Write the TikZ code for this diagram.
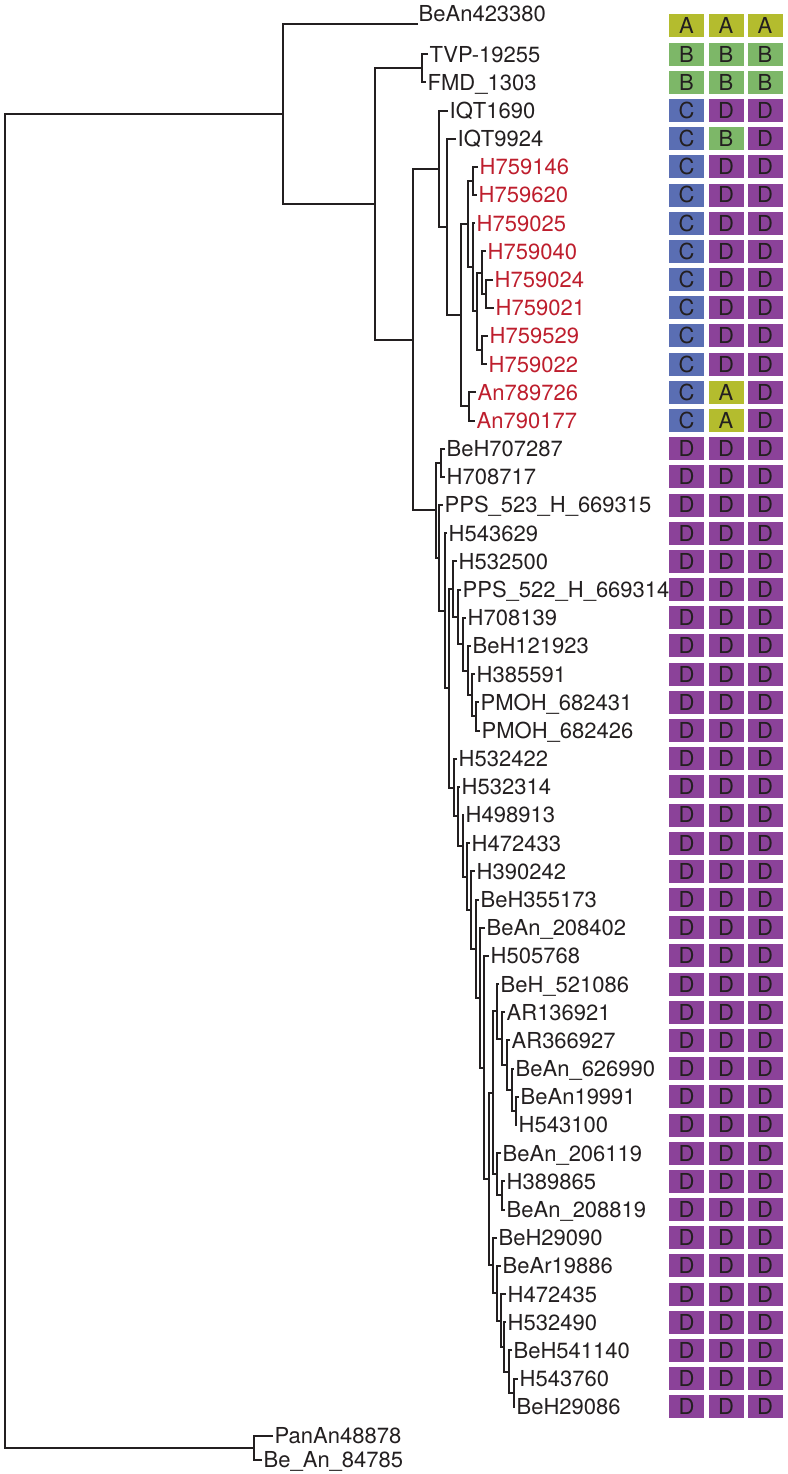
\documentclass[tikz,border=0pt]{standalone}
\usepackage{fontspec}
\setmainfont{TeX Gyre Heros}
\usetikzlibrary{calc}
\definecolor{ink}{HTML}{231F20}
\definecolor{hred}{HTML}{BE1E2D}
\definecolor{cA}{HTML}{B4BC2E}
\definecolor{cB}{HTML}{7DB768}
\definecolor{cC}{HTML}{5A6EB3}
\definecolor{cD}{HTML}{8B4299}

% clade: name, x of its bar, upper child, lower child
\newcommand{\mkclade}[4]{%
  \coordinate (#1-m) at ($(#3)!.5!(#4)$);
  \coordinate (#1) at (#2,0 |- #1-m);
  \draw[branch] (#3) -| (#1) |- (#4);}

\begin{document}
\begin{tikzpicture}[x=1pt, y=-1pt, font=\fontsize{22}{22}\selectfont,
    branch/.style={draw=ink, line width=2pt},
    lbl/.style={anchor=west, inner sep=1.5pt, text height=15.8pt, text depth=0pt, text=ink},
    lblred/.style={lbl, text=hred},
    lbltop/.style={lbl, yshift=12pt},
    cell/.style={minimum width=35pt, minimum height=23pt, inner sep=0pt,
      text height=15.8pt, text depth=0pt, text=ink}]
  \useasboundingbox (0,0) rectangle (787,1474);

  % leaves and their three columns
  \foreach \i/\x/\lab/\st/\ca/\cb/\cc in {
    1/417/BeAn423380/lbltop/A/A/A, 2/428/TVP-19255/lbl/B/B/B, 3/426/FMD\_1303/lbl/B/B/B,
    4/448/IQT1690/lbl/C/D/D, 5/456/IQT9924/lbl/C/B/D,
    6/478/H759146/lblred/C/D/D, 7/477/H759620/lblred/C/D/D, 8/475/H759025/lblred/C/D/D,
    9/486/H759040/lblred/C/D/D, 10/493/H759024/lblred/C/D/D, 11/494/H759021/lblred/C/D/D,
    12/488/H759529/lblred/C/D/D, 13/487/H759022/lblred/C/D/D,
    14/476/An789726/lblred/C/A/D, 15/475/An790177/lblred/C/A/D,
    16/445/BeH707287/lbl/D/D/D, 17/445/H708717/lbl/D/D/D, 18/443/PPS\_523\_H\_669315/lbl/D/D/D,
    19/447/H543629/lbl/D/D/D, 20/457/H532500/lbl/D/D/D, 21/461/PPS\_522\_H\_669314/lbl/D/D/D,
    22/466/H708139/lbl/D/D/D, 23/471/BeH121923/lbl/D/D/D, 24/475/H385591/lbl/D/D/D,
    25/479/PMOH\_682431/lbl/D/D/D, 26/480/PMOH\_682426/lbl/D/D/D, 27/457/H532422/lbl/D/D/D,
    28/460/H532314/lbl/D/D/D, 29/464/H498913/lbl/D/D/D, 30/470/H472433/lbl/D/D/D,
    31/475/H390242/lbl/D/D/D, 32/479/BeH355173/lbl/D/D/D, 33/485/BeAn\_208402/lbl/D/D/D,
    34/489/H505768/lbl/D/D/D, 35/499/BeH\_521086/lbl/D/D/D, 36/505/AR136921/lbl/D/D/D,
    37/510/AR366927/lbl/D/D/D, 38/514/BeAn\_626990/lbl/D/D/D, 39/519/BeAn19991/lbl/D/D/D,
    40/517/H543100/lbl/D/D/D, 41/501/BeAn\_206119/lbl/D/D/D, 42/505/H389865/lbl/D/D/D,
    43/505/BeAn\_208819/lbl/D/D/D, 44/497/BeH29090/lbl/D/D/D, 45/501/BeAr19886/lbl/D/D/D,
    46/506/H472435/lbl/D/D/D, 47/506/H532490/lbl/D/D/D, 48/512/BeH541140/lbl/D/D/D,
    49/518/H543760/lbl/D/D/D, 50/515/BeH29086/lbl/D/D/D}{
    \node[\st] (t\i) at (\x,{26+(\i-1)*28.18}) {\lab};
    \node[cell, fill=c\ca] (a\i) at (686.5,{26+(\i-1)*28.18}) {\ca};
    \node[cell, fill=c\cb] (b\i) at (726,{26+(\i-1)*28.18}) {\cb};
    \node[cell, fill=c\cc] (c\i) at (765,{26+(\i-1)*28.18}) {\cc};
  }
  \coordinate (tip1) at (418,24);
  \node[lbl] (t51) at (273,1436) {PanAn48878};
  \node[lbl] (t52) at (262,1460) {Be\_An\_84785};

  % tree, from the deepest clades upwards
  \mkclade{h5}{514}{t49.west}{t50.west}
  \mkclade{h4}{509}{t48.west}{h5}
  \mkclade{h3}{504}{t47.west}{h4}
  \mkclade{h2}{501}{t46.west}{h3}
  \mkclade{h1}{497}{t45.west}{h2}
  \mkclade{h0}{493}{t44.west}{h1}
  \mkclade{g2b}{502}{t42.west}{t43.west}
  \mkclade{g2}{497}{t41.west}{g2b}
  \mkclade{g1e}{516}{t39.west}{t40.west}
  \mkclade{g1d}{512}{t38.west}{g1e}
  \mkclade{g1c}{507}{t37.west}{g1d}
  \mkclade{g1b}{502}{t36.west}{g1c}
  \mkclade{g1}{497}{t35.west}{g1b}
  \mkclade{g0}{493}{g1}{g2}
  \mkclade{f8}{489}{g0}{h0}
  \mkclade{f7}{484}{t34.west}{f8}
  \mkclade{f6}{480}{t33.west}{f7}
  \mkclade{f5}{476}{t32.west}{f6}
  \mkclade{f4}{471}{t31.west}{f5}
  \mkclade{f3}{467}{t30.west}{f4}
  \mkclade{f2}{463}{t29.west}{f3}
  \mkclade{f1}{458}{t28.west}{f2}
  \mkclade{f0}{454}{t27.west}{f1}
  \mkclade{e5}{476}{t25.west}{t26.west}
  \mkclade{e4}{472}{t24.west}{e5}
  \mkclade{e3}{468}{t23.west}{e4}
  \mkclade{e2}{463}{t22.west}{e3}
  \mkclade{e1}{458}{t21.west}{e2}
  \mkclade{e0}{453}{t20.west}{e1}
  \mkclade{d3}{449}{e0}{f0}
  \mkclade{d2}{445}{t19.west}{d3}
  \mkclade{d1}{439}{t18.west}{d2}
  \mkclade{da}{441}{t16.west}{t17.west}
  \mkclade{d0}{436}{da}{d1}
  \mkclade{an}{469}{t14.west}{t15.west}
  \mkclade{p3}{482}{t12.west}{t13.west}
  \mkclade{p2}{486}{t10.west}{t11.west}
  \mkclade{q3}{482}{t9.west}{p2}
  \mkclade{q2}{477}{q3}{p3}
  \mkclade{q1}{473}{t8.west}{q2}
  \mkclade{p1}{473}{t6.west}{t7.west}
  \mkclade{hh}{468}{p1}{q1}
  \mkclade{n3}{461}{hh}{an}
  \mkclade{n2}{447}{t5.west}{n3}
  \mkclade{n1}{439}{t4.west}{n2}
  \mkclade{nc}{413}{n1}{d0}
  \mkclade{tf}{422}{t2.west}{t3.west}
  \mkclade{nb}{375}{tf}{nc}
  \mkclade{na}{283}{tip1}{nb}
  \mkclade{pb}{254}{t51.west}{t52.west}
  \mkclade{root}{5}{na}{pb}
\end{tikzpicture}
\end{document}
